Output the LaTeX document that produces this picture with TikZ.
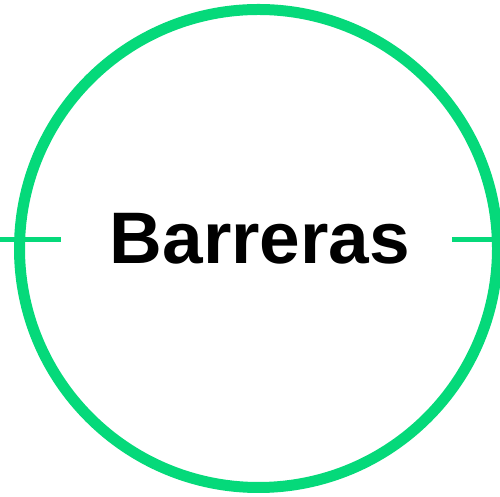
\documentclass[tikz,border=0pt]{standalone}
\usepackage{fontspec}
\setmainfont{Liberation Sans}
\definecolor{ringgreen}{RGB}{5,217,122}
\begin{document}
\begin{tikzpicture}[x=1pt,y=1pt,
  ring/.style={circle,draw=ringgreen,line width=11pt,minimum size=478pt,inner sep=0pt},
  tick/.style={draw=ringgreen,line width=5pt},
  label/.style={font=\fontsize{73}{73}\selectfont\bfseries,inner sep=0pt}]
\useasboundingbox (0,0) rectangle (500,497);
\node[ring] (c) at (258.5,248.5) {};
\node[label,anchor=base] (t) at (260,233) {Barreras};
\coordinate (l1) at (0,257.5);
\coordinate (l2) at (61,257.5);
\coordinate (r1) at (452,257.5);
\coordinate (r2) at (500,257.5);
\draw[tick] (l1) -- (l2);
\draw[tick] (r1) -- (r2);
\end{tikzpicture}
\end{document}
